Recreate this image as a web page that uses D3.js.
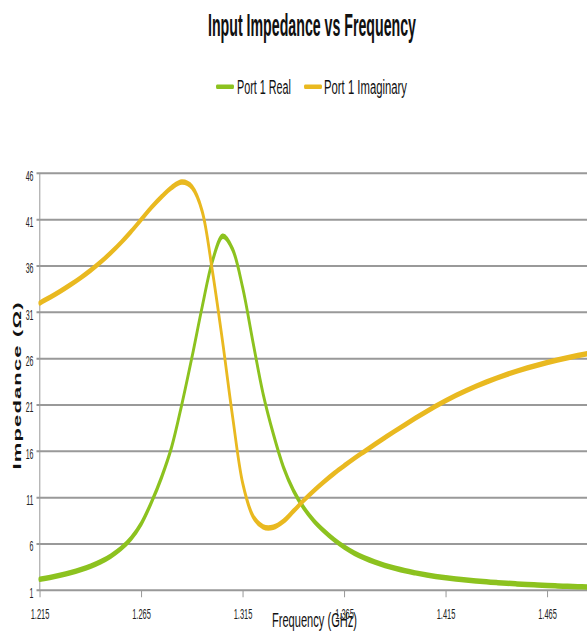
<!DOCTYPE html>
<html><head><meta charset="utf-8">
<script src="https://cdn.jsdelivr.net/npm/d3@7"></script>
<style>html,body{margin:0;padding:0;background:#fff;}svg{display:block;}</style>
</head><body>
<svg id="chart" width="587" height="635"></svg>
<script>
const title = "Input Impedance vs Frequency";
const seriesNames = ["Port 1 Real", "Port 1 Imaginary"];
const seriesColors = ["#8cc21f", "#e9b920"];
const xTicks = [1.215, 1.265, 1.315, 1.365, 1.415, 1.465];
const yTicks = [1, 6, 11, 16, 21, 26, 31, 36, 41, 46];
const freq = [1.215,1.220,1.225,1.230,1.235,1.240,1.245,1.250,1.255,1.260,1.265,1.270,1.275,1.280,1.285,1.290,1.295,1.300,1.305,1.310,1.315,1.320,1.325,1.330,1.335,1.340,1.345,1.350,1.355,1.360,1.365,1.370,1.375,1.380,1.385,1.390,1.395,1.400,1.405,1.410,1.415,1.420,1.425,1.430,1.435,1.440,1.445,1.450,1.455,1.460,1.465,1.470,1.475,1.480,1.485];
const realVals = [2.19,2.39,2.62,2.89,3.21,3.6,4.08,4.7,5.5,6.6,8.2,10.5,13.2,16.5,21.1,26.2,31.6,36.5,39.2,37.8,33.6,27.8,22.2,17.9,14.3,11.75,9.9,8.5,7.4,6.45,5.65,5.0,4.48,4.05,3.68,3.37,3.1,2.88,2.68,2.5,2.35,2.22,2.1,2.0,1.91,1.83,1.76,1.69,1.63,1.57,1.52,1.47,1.43,1.39,1.35];
const imagVals = [32.0,32.6,33.25,33.95,34.7,35.52,36.42,37.42,38.52,39.72,41.02,42.32,43.47,44.47,45.05,44.5,41.9,35.5,27.9,19.7,12.5,9.0,7.85,7.8,8.45,9.55,10.7,11.75,12.72,13.62,14.45,15.25,16.0,16.74,17.47,18.19,18.89,19.57,20.23,20.87,21.47,22.03,22.55,23.03,23.48,23.9,24.29,24.65,24.98,25.29,25.58,25.85,26.1,26.33,26.54];

const K = 0.5; // horizontal compression of the whole drawing
const font = "'Liberation Sans', Arial, sans-serif";
const svg = d3.select("#chart");
const g = svg.append("g").attr("transform", `scale(${K},1)`);

const x = d3.scaleLinear().domain([1.215, 1.465]).range([39.8 / K, 547.3 / K]);
const y = d3.scaleLinear().domain([1, 46]).range([590.3, 173.3]);

// gridlines
g.append("g").selectAll("line").data(yTicks).join("line")
  .attr("x1", 36.5 / K).attr("x2", 600 / K)
  .attr("y1", d => y(d)).attr("y2", d => y(d))
  .attr("stroke", "#999").attr("stroke-width", 2);

// vertical axis line
g.append("line").attr("x1", x(1.215)).attr("x2", x(1.215))
  .attr("y1", y(46)).attr("y2", y(1))
  .attr("stroke", "#999").attr("stroke-width", 2);

// y tick labels
g.append("g").selectAll("text").data(yTicks).join("text")
  .attr("x", 33.5 / K).attr("y", d => y(d) + 7.5)
  .attr("text-anchor", "end")
  .attr("font-family", font).attr("font-size", 14).attr("fill", "#222")
  .text(d => d);

// x axis ticks
const xAxis = d3.axisBottom(x).tickValues(xTicks).tickSize(7).tickPadding(4)
  .tickFormat(d3.format(".3f"));
const xa = g.append("g").attr("transform", `translate(0,${y(1)})`).call(xAxis);
xa.select(".domain").remove();
xa.selectAll(".tick line").attr("stroke", "#999").attr("stroke-width", 2);
xa.selectAll(".tick text").attr("font-family", font).attr("font-size", 15)
  .attr("fill", "#222").attr("y", 28.5).attr("dy", 0);

// series lines
const line = vals => d3.line().x((d, i) => x(freq[i])).y(d => y(d)).curve(d3.curveCatmullRom.alpha(0.5))(vals);
[realVals, imagVals].forEach((vals, i) => {
  g.append("path").attr("d", line(vals)).attr("fill", "none")
    .attr("stroke", seriesColors[i]).attr("stroke-width", 5.5)
    .attr("stroke-linejoin", "round").attr("stroke-linecap", "round");
});

// title
g.append("text").attr("x", 208 / K).attr("y", 36)
  .attr("font-family", font).attr("font-size", 31).attr("font-weight", "bold")
  .attr("fill", "#111").attr("textLength", 208 / K).attr("lengthAdjust", "spacingAndGlyphs")
  .text(title);

// legend
const legendItems = [
  {sx: 216, tx: 237, tw: 54},
  {sx: 304, tx: 324, tw: 83}
];
legendItems.forEach((it, i) => {
  g.append("rect").attr("x", it.sx / K).attr("y", 84.5).attr("width", 18 / K).attr("height", 4.5)
    .attr("rx", 2).attr("fill", seriesColors[i]);
  g.append("text").attr("x", it.tx / K).attr("y", 94.5)
    .attr("font-family", font).attr("font-size", 21).attr("fill", "#111")
    .attr("textLength", it.tw / K).attr("lengthAdjust", "spacingAndGlyphs")
    .text(seriesNames[i]);
});

// x axis title
g.append("text").attr("x", 272 / K).attr("y", 627)
  .attr("font-family", font).attr("font-size", 20).attr("fill", "#111")
  .attr("textLength", 85 / K).attr("lengthAdjust", "spacingAndGlyphs")
  .text("Frequency (GHz)");

// y axis title
g.append("text").attr("transform", `translate(${21 / K},386) rotate(-90)`)
  .attr("text-anchor", "middle")
  .attr("font-family", font).attr("font-size", 22).attr("font-weight", "bold").attr("fill", "#111")
  .attr("textLength", 167).attr("lengthAdjust", "spacing")
  .text("Impedance (\u03A9)");
</script>
</body></html>
